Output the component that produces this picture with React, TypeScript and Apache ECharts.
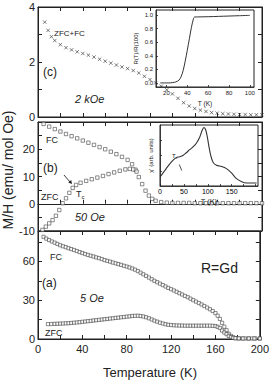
import React, { useEffect, useRef } from 'react';
import * as echarts from 'echarts';

const FONT = "'Liberation Sans', Arial, sans-serif";
const INK = '#222';

// Panel (c): 2 kOe, ZFC+FC
const tC = [6, 9, 12, 15, 20, 25, 30, 35, 40, 45, 50, 55, 60, 65, 70, 75, 80, 85, 90, 95, 100, 105, 110, 115, 120, 125, 130, 135, 140, 145, 150, 155, 160, 165, 170, 175, 180, 185, 190, 195, 200];
const mC = [3.45, 3.15, 2.92, 2.78, 2.63, 2.52, 2.44, 2.37, 2.31, 2.25, 2.18, 2.10, 2.03, 1.96, 1.89, 1.82, 1.76, 1.69, 1.60, 1.48, 1.36, 1.24, 1.12, 0.99, 0.84, 0.68, 0.52, 0.40, 0.31, 0.25, 0.20, 0.16, 0.14, 0.12, 0.11, 0.10, 0.09, 0.09, 0.08, 0.08, 0.08];

// Inset (c): R(T)/R(100)
const tR = [14, 18, 22, 26, 29, 32, 34, 36, 38, 40, 42, 44, 46, 47, 50, 60, 70, 80, 90, 100];
const rR = [0.0, 0.0, 0.0, 0.005, 0.015, 0.04, 0.09, 0.18, 0.32, 0.48, 0.65, 0.82, 0.95, 0.97, 0.972, 0.975, 0.98, 0.985, 0.99, 0.995];

// Panel (b): 50 Oe
const tBfc = [5, 10, 15, 20, 25, 30, 35, 40, 45, 50, 55, 60, 65, 70, 75, 80, 84, 87, 90, 93, 96, 99, 102, 105, 110, 115, 120, 125, 130, 135, 140, 145, 150, 155, 160, 165, 170, 175, 180, 185, 190, 195, 200];
const mBfc = [29.3, 28.3, 27.4, 26.5, 25.6, 24.8, 24.0, 23.2, 22.4, 21.6, 20.8, 20.0, 19.1, 18.2, 17.2, 16.1, 14.5, 12.5, 9.8, 7.2, 4.8, 3.0, 1.8, 1.1, 0.6, 0.4, 0.3, 0.3, 0.3, 0.3, 0.2, 0.2, 0.2, 0.2, 0.2, 0.2, 0.2, 0.2, 0.2, 0.2, 0.2, 0.2, 0.2];
const tBzfc = [4, 7, 10, 13, 16, 19, 22, 25, 28, 31, 34, 38, 43, 48, 53, 58, 63, 68, 73, 78, 82, 85, 88];
const mBzfc = [-9.6, -8.4, -7.2, -6.0, -4.4, -2.3, 0.2, 2.0, 4.0, 5.8, 6.9, 7.7, 8.4, 9.0, 9.6, 10.2, 10.9, 11.5, 12.1, 12.6, 12.8, 12.6, 11.8];

// Inset (b): chi'
const tChi = [1, 6, 13, 20, 27, 34, 41, 48, 55, 62, 69, 76, 83, 88, 92, 96, 99.5, 103, 106.5, 111, 118, 129, 139, 150, 160, 171, 181, 202];
const chi = [0.155, 0.21, 0.285, 0.36, 0.42, 0.465, 0.48, 0.50, 0.545, 0.595, 0.64, 0.70, 0.80, 0.91, 0.96, 0.91, 0.78, 0.62, 0.49, 0.39, 0.34, 0.32, 0.285, 0.21, 0.12, 0.07, 0.05, 0.05];

// Panel (a): 5 Oe
const tAfc = [5, 7.5, 10, 12.5, 15, 17.5, 20, 22.5, 25, 27.5, 30, 32.5, 35, 37.5, 40, 42.5, 45, 47.5, 50, 52.5, 55, 57.5, 60, 62.5, 65, 67.5, 70, 72.5, 75, 77.5, 80, 82.5, 85, 87.5, 90, 92.5, 95, 97.5, 100, 102.5, 105, 107.5, 110, 112.5, 115, 117.5, 120, 122.5, 125, 127.5, 130, 132.5, 135, 137.5, 140, 142.5, 145, 147.5, 150, 152.5, 155, 157.5, 160, 162, 164, 166, 168, 170, 172, 174, 176, 178, 181, 184, 187, 190, 193, 196, 200];
const mAfc = [79, 77.6, 76.5, 75.4, 74.5, 73.5, 72.5, 71.7, 71, 70.2, 69.5, 68.8, 68, 67.2, 66.5, 65.7, 65, 64.4, 63.8, 63.1, 62.5, 61.8, 61, 60.4, 59.8, 59.1, 58.5, 57.9, 57.3, 56.6, 56, 55.3, 54.5, 53.6, 52.5, 51.3, 50, 48.8, 47.5, 46.2, 45, 43.9, 42.8, 41.7, 40.6, 39.5, 38.5, 37.5, 36.5, 35.4, 34.4, 33.3, 32.3, 31.2, 30, 28.9, 27.8, 26.7, 25.5, 24.3, 23, 21.6, 20, 18, 15.5, 12.5, 9.5, 6.8, 4, 2.4, 1.3, 0.6, 0.4, 0.4, 0.4, 0.4, 0.4, 0.4, 0.4];
const tAzfc = [9, 12, 15, 17.5, 20, 22.5, 25, 27.5, 30, 32.5, 35, 37.5, 40, 42.5, 45, 47.5, 50, 52.5, 55, 57.5, 60, 62.5, 65, 67.5, 70, 72.5, 75, 77.5, 80, 82.5, 85, 87.5, 90, 92.5, 95, 97.5, 100, 102.5, 105, 107.5, 110, 112.5, 115, 117.5, 120, 122.5, 125, 127.5, 130, 132.5, 135, 137.5, 140, 142.5, 145, 147.5, 150, 152.5, 155, 157.5, 160, 162, 164, 166, 168, 170, 172, 174, 176, 178, 181, 185, 190, 195, 200];
const mAzfc = [11.5, 11.6, 11.7, 11.8, 11.9, 12, 12.1, 12.2, 12.4, 12.6, 12.8, 13, 13.3, 13.5, 13.8, 14, 14.3, 14.5, 14.8, 15, 15.3, 15.5, 15.8, 16, 16.3, 16.5, 16.8, 17, 17.3, 17.5, 17.8, 17.9, 18, 17.8, 17.4, 16.8, 16, 15.1, 14.2, 13.4, 12.6, 12, 11.4, 11, 10.8, 10.6, 10.5, 10.4, 10.4, 10.3, 10.3, 10.3, 10.3, 10.3, 10.3, 10.3, 10.3, 10.3, 10.3, 10.2, 10, 9.4, 8.5, 6.5, 5, 3.8, 2.4, 1.5, 0.9, 0.6, 0.5, 0.4, 0.4, 0.4, 0.4];

// Ticks / labels
const xTicks = [0, 20, 40, 60, 80, 100, 120, 140, 160, 180, 200];
const xLabels = [0, 40, 80, 120, 160, 200];
const yTicksC = [0, 1, 2, 3, 4];
const yLabelsC = [0, 2, 4];
const yTicksB = [-10, -5, 0, 5, 10, 15, 20, 25];
const yLabelsB = [-10, 0, 10, 20];
const yTicksA = [0, 15, 30, 45, 60, 75];
const yLabelsA = [0, 30, 60];
const rTicks = [0, 0.2, 0.4, 0.6, 0.8, 1.0];
const rLabels = ['0.0', '0.2', '0.4', '0.6', '0.8', '1.0'];
const insetCxTicks = [20, 40, 60, 80, 100];
const insetBxTicks = [0, 50, 100, 150];
const insetBxMinor = [0, 25, 50, 75, 100, 125, 150, 175, 200];
const insetByTicks = [0.25, 0.5, 0.75];

const zip = (a: number[], b: number[]) => a.map((v, i) => [v, b[i]]);

const line = { color: INK, width: 1 };

function mkX(gridIndex: number, position: string, showLabels: boolean, onZero: boolean) {
  return {
    type: 'value', gridIndex, position, min: 0, max: 200,
    axisLine: { show: true, onZero, lineStyle: line },
    axisTick: { show: true, inside: true, length: 4, customValues: xTicks, lineStyle: line },
    axisLabel: { show: showLabels, customValues: xLabels, color: INK, fontSize: 11, fontFamily: FONT, margin: 4 },
    splitLine: { show: false },
  };
}

function mkY(gridIndex: number, position: string, min: number, max: number, ticks: number[], labels: number[], showLabels: boolean) {
  return {
    type: 'value', gridIndex, position, min, max,
    axisLine: { show: true, onZero: false, lineStyle: line },
    axisTick: { show: true, inside: true, length: 4, customValues: ticks, lineStyle: line },
    axisLabel: { show: showLabels, customValues: labels, color: INK, fontSize: 11, fontFamily: FONT, margin: 3 },
    splitLine: { show: false },
  };
}

const crossSymbol = 'path://M0,0L10,10M10,0L0,10';

export default function App() {
  const ref = useRef<HTMLDivElement>(null);
  useEffect(() => {
    document.body.style.margin = '0';
    const chart = echarts.init(ref.current!, null, { renderer: 'svg' });
    const gridBase = { show: true, borderColor: INK, borderWidth: 1, backgroundColor: 'transparent', containLabel: false };
    const square = {
      type: 'scatter', symbol: 'rect', symbolSize: 3.4,
      itemStyle: { color: '#fff', borderColor: '#333', borderWidth: 0.7 },
    };
    const smallTxt = { color: INK, fontSize: 6, fontFamily: FONT };
    const graphics: any[] = [
      { type: 'text', x: 8, y: 170, rotation: Math.PI / 2, style: { text: 'M/H (emu/ mol Oe)', fill: INK, font: `14px ${FONT}`, align: 'center', verticalAlign: 'middle' } },
      { type: 'text', x: 150, y: 372, style: { text: 'Temperature (K)', fill: INK, font: `13px ${FONT}`, align: 'center', verticalAlign: 'middle' } },
      // panel c
      { type: 'text', x: 54, y: 33, style: { text: 'ZFC+FC', fill: INK, font: `8px ${FONT}`, verticalAlign: 'middle' } },
      { type: 'text', x: 43, y: 72, style: { text: '(c)', fill: INK, font: `12px ${FONT}`, verticalAlign: 'middle' } },
      { type: 'text', x: 75, y: 99, style: { text: '2 kOe', fill: INK, font: `italic 11px ${FONT}`, verticalAlign: 'middle' } },
      // panel b
      { type: 'text', x: 46, y: 140, style: { text: 'FC', fill: INK, font: `9px ${FONT}`, verticalAlign: 'middle' } },
      { type: 'text', x: 43, y: 168, style: { text: '(b)', fill: INK, font: `12px ${FONT}`, verticalAlign: 'middle' } },
      { type: 'text', x: 41, y: 197, style: { text: 'ZFC', fill: INK, font: `9px ${FONT}`, verticalAlign: 'middle' } },
      {
        type: 'text', x: 76, y: 194,
        style: { text: '{t|T}{s|c}', fill: INK, verticalAlign: 'middle', rich: { t: { fontSize: 9, fontFamily: FONT, fill: INK }, s: { fontSize: 6, fontFamily: FONT, fill: INK, padding: [5, 0, 0, 0] } } },
      },
      { type: 'line', shape: { x1: 64, y1: 175, x2: 70, y2: 182 }, style: { stroke: INK, lineWidth: 0.9 } },
      { type: 'polygon', shape: { points: [[72, 184], [68.2, 182.6], [71.2, 180]] }, style: { fill: INK } },
      { type: 'text', x: 75, y: 217, style: { text: '50 Oe', fill: INK, font: `italic 11px ${FONT}`, verticalAlign: 'middle' } },
      // inset b Tc
      {
        type: 'text', x: 172, y: 156,
        style: { text: '{t|T}{s|c}', fill: INK, verticalAlign: 'middle', rich: { t: { fontSize: 6, fontFamily: FONT, fill: INK }, s: { fontSize: 4, fontFamily: FONT, fill: INK, padding: [3, 0, 0, 0] } } },
      },
      { type: 'line', shape: { x1: 179.3, y1: 164.5, x2: 181.7, y2: 170.5 }, style: { stroke: INK, lineWidth: 0.8 } },
      // panel a
      { type: 'text', x: 50, y: 257, style: { text: 'FC', fill: INK, font: `9px ${FONT}`, verticalAlign: 'middle' } },
      { type: 'text', x: 42, y: 283, style: { text: '(a)', fill: INK, font: `12px ${FONT}`, verticalAlign: 'middle' } },
      { type: 'text', x: 80, y: 298, style: { text: '5 Oe', fill: INK, font: `italic 11px ${FONT}`, verticalAlign: 'middle' } },
      { type: 'text', x: 45, y: 333, style: { text: 'ZFC', fill: INK, font: `9px ${FONT}`, verticalAlign: 'middle' } },
      { type: 'text', x: 201, y: 268, style: { text: 'R=Gd', fill: INK, font: `14px ${FONT}`, verticalAlign: 'middle' } },
    ];
    const option: any = {
      animation: false,
      backgroundColor: '#fff',
      grid: [
        { ...gridBase, left: 38, top: 7, width: 224, height: 110 },   // c
        { ...gridBase, left: 38, top: 122, width: 224, height: 109 }, // b
        { ...gridBase, left: 38, top: 231, width: 224, height: 108 }, // a
        { ...gridBase, left: 156, top: 10, width: 98, height: 77 },   // inset c
        { ...gridBase, left: 160, top: 125, width: 98, height: 61 },  // inset b
      ],
      xAxis: [
        mkX(0, 'bottom', false, true),
        mkX(0, 'top', false, false),
        mkX(1, 'bottom', false, true),
        mkX(1, 'top', false, false),
        mkX(2, 'bottom', true, false),
        mkX(2, 'top', false, false),
        {
          type: 'value', gridIndex: 3, min: 10, max: 104, position: 'bottom',
          axisLine: { show: true, onZero: false, lineStyle: { color: INK, width: 0.8 } },
          axisTick: { show: true, inside: true, length: 2, customValues: insetCxTicks, lineStyle: { color: INK, width: 0.8 } },
          axisLabel: { show: true, ...smallTxt, customValues: insetCxTicks, margin: 3 },
          splitLine: { show: false },
          name: 'T (K)', nameLocation: 'middle', nameGap: 13,
          nameTextStyle: { ...smallTxt, fontSize: 6.5 },
        },
        {
          type: 'value', gridIndex: 4, min: 0, max: 205, position: 'bottom',
          axisLine: { show: true, onZero: false, lineStyle: { color: INK, width: 0.8 } },
          axisTick: { show: true, inside: true, length: 2, customValues: insetBxMinor, lineStyle: { color: INK, width: 0.8 } },
          axisLabel: { show: true, customValues: insetBxTicks, color: '#000', fontSize: 7, fontFamily: FONT, margin: 2 },
          splitLine: { show: false },
          name: 'T (K)', nameLocation: 'middle', nameGap: 11,
          nameTextStyle: { color: INK, fontFamily: FONT, fontSize: 7.5 },
          z: 10,
        },
      ],
      yAxis: [
        mkY(0, 'left', 0, 4, yTicksC, yLabelsC, true),
        mkY(0, 'right', 0, 4, yTicksC, yLabelsC, false),
        mkY(1, 'left', -10, 30, yTicksB, yLabelsB, true),
        mkY(1, 'right', -10, 30, yTicksB, yLabelsB, false),
        mkY(2, 'left', 0, 83.5, yTicksA, yLabelsA, true),
        mkY(2, 'right', 0, 83.5, yTicksA, yLabelsA, false),
        {
          type: 'value', gridIndex: 3, min: -0.06, max: 1.074, position: 'left',
          axisLine: { show: true, onZero: false, lineStyle: { color: INK, width: 0.8 } },
          axisTick: { show: true, inside: true, length: 2, customValues: rTicks, lineStyle: { color: INK, width: 0.8 } },
          axisLabel: { ...smallTxt, customValues: rTicks, margin: 3, formatter: (v: number) => rLabels[Math.round(v * 5)] ?? '' },
          splitLine: { show: false },
          name: 'R(T)/R(100)', nameLocation: 'middle', nameGap: 17, nameRotate: 90,
          nameTextStyle: { ...smallTxt, fontSize: 6 },
        },
        {
          type: 'value', gridIndex: 4, min: 0, max: 1, position: 'left',
          axisLine: { show: true, onZero: false, lineStyle: { color: INK, width: 0.8 } },
          axisTick: { show: true, inside: true, length: 2, customValues: insetByTicks, lineStyle: { color: INK, width: 0.8 } },
          axisLabel: { show: false },
          splitLine: { show: false },
          name: "χ' (arb. units)", nameLocation: 'middle', nameGap: 6, nameRotate: 90,
          nameTextStyle: { ...smallTxt, fontSize: 6 },
        },
      ],
      series: [
        {
          type: 'scatter', xAxisIndex: 0, yAxisIndex: 0, data: zip(tC, mC),
          symbol: crossSymbol, symbolSize: 3.4,
          itemStyle: { color: 'transparent', borderColor: '#333', borderWidth: 0.8 },
        },
        {
          type: 'line', xAxisIndex: 6, yAxisIndex: 6, data: zip(tR, rR),
          showSymbol: false, smooth: 0.3, lineStyle: { color: '#333', width: 1 },
        },
        { ...square, xAxisIndex: 2, yAxisIndex: 2, data: zip(tBfc, mBfc) },
        { ...square, xAxisIndex: 2, yAxisIndex: 2, data: zip(tBzfc, mBzfc) },
        {
          type: 'line', xAxisIndex: 7, yAxisIndex: 7, data: zip(tChi, chi),
          showSymbol: false, smooth: 0.3, lineStyle: { color: '#333', width: 1.1 },
        },
        { ...square, symbolSize: 3.2, xAxisIndex: 4, yAxisIndex: 4, data: zip(tAfc, mAfc) },
        { ...square, symbolSize: 3.2, xAxisIndex: 4, yAxisIndex: 4, data: zip(tAzfc, mAzfc) },
      ],
      graphic: graphics,
    };
    chart.setOption(option);
    return () => chart.dispose();
  }, []);
  return <div ref={ref} style={{ position: 'fixed', left: 0, top: 0, width: 272, height: 382, background: '#fff' }} />;
}
